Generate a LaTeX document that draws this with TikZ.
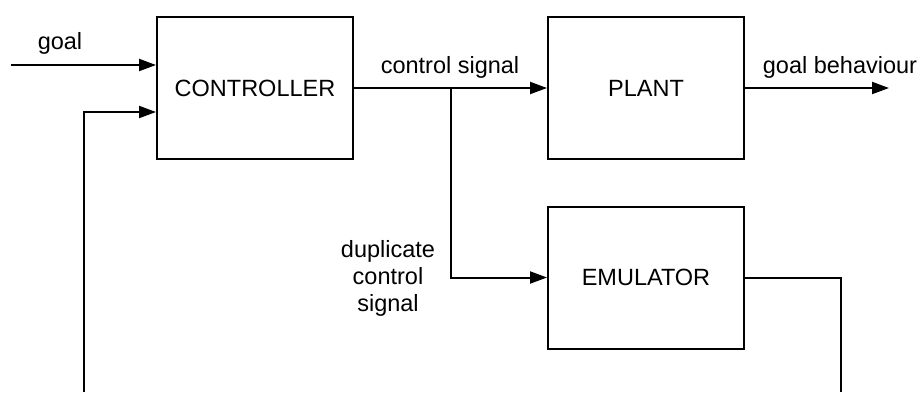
\documentclass[tikz,border=0pt]{standalone}
\usepackage{fontspec}
\setmainfont{Liberation Sans}
\usetikzlibrary{arrows.meta,positioning}

\begin{document}
\begin{tikzpicture}[x=1pt, y=-1pt, line width=2pt,
    font=\fontsize{23.5}{27}\selectfont,
    >={Triangle[length=17pt,width=12pt]},
    block/.style={rectangle, draw=black, minimum width=196pt, minimum height=142pt, inner sep=0pt}]
   \useasboundingbox (0,0) rectangle (923,392);

   \node[block] (ctrl) at (255,88) {CONTROLLER};
   \node[block] (plant) at (646,88) {PLANT};
   \node[block] (emu) at (646,277.5) {EMULATOR};

   %labels
   \node[anchor=base] (lgoal) at (60,49) {goal};
   \node[anchor=base] (lctrl) at (450,73) {control signal};
   \node[anchor=base] (lbeh) at (840,73) {goal behaviour};
   \node[align=center] (ldup) at (388,278) {duplicate\\control\\signal};

   %free ends and corners
   \coordinate (goalin) at (11,65);
   \coordinate (split) at (451,88);
   \coordinate (behout) at (889,88);
   \coordinate (fbleft) at (84,392);
   \coordinate (fbright) at (841,392);

  \path[->]
    (goalin) edge node {} ([yshift=23pt]ctrl.west)
    (ctrl.east) edge node {} (plant.west)
    (plant.east) edge node {} (behout);

  %duplicate to emulator
  \draw[->] (split) |- (emu.west);
  %feedback loop
  \draw (emu.east) -| (fbright);
  \draw[->] (fbleft) |- ([yshift=-24pt]ctrl.west);
\end{tikzpicture}
\end{document}
